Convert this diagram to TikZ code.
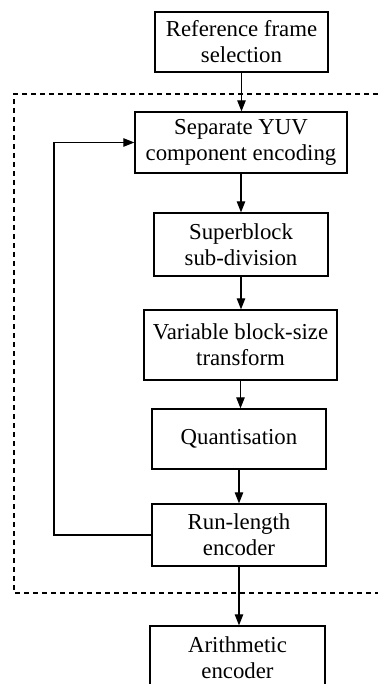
\documentclass[tikz,border=0pt]{standalone}
\usepackage{fontspec}
\setmainfont{Liberation Serif}
\usetikzlibrary{arrows.meta}
\begin{document}
\begin{tikzpicture}[x=1pt,y=-1pt,
  stage/.style={draw, line width=1.3pt, align=center, inner sep=0pt,
    font=\fontsize{22.8}{26}\selectfont},
  flow/.style={line width=1.1pt, -{Triangle[length=11pt,width=8.5pt]}},
  region/.style={line width=1.4pt, dash pattern=on 5pt off 4pt}]
\clip (0,0) rectangle (378,684);

% processing stages
\node[stage, minimum width=173pt, minimum height=60pt] (ref)   at (241.5,42)  {Reference frame\\selection};
\node[stage, minimum width=212pt, minimum height=61pt] (yuv)   at (241,142.5) {Separate YUV\\component encoding};
\node[stage, minimum width=174pt, minimum height=63pt] (sup)   at (241,244.5) {Superblock\\sub-division};
\node[stage, minimum width=193pt, minimum height=70pt] (vbs)   at (240.5,345) {Variable block-size\\transform};
\node[stage, minimum width=174pt, minimum height=60pt] (quant) at (239,439)   {Quantisation};
\node[stage, minimum width=174pt, minimum height=62pt] (rle)   at (239,535)   {Run-length\\encoder};
\node[stage, minimum width=175pt, minimum height=100pt] (arith) at (237.5,676) {};
\node[font=\fontsize{22.8}{26}\selectfont, align=center] (arithlbl) at (237.5,658) {Arithmetic\\encoder};

% dashed region enclosing the coding loop
\draw[region] (378,94) -- (14,94) -- (14,593) -- (378,593);

% main flow
\draw[flow] (ref.south)   -- (ref.south   |- yuv.north);
\draw[flow] (yuv.south)   -- (yuv.south   |- sup.north);
\draw[flow] (sup.south)   -- (sup.south   |- vbs.north);
\draw[flow] (vbs.south)   -- (vbs.south   |- quant.north);
\draw[flow] (quant.south) -- (quant.south |- rle.north);
\draw[flow] (rle.south)   -- (rle.south   |- arith.north);

% feedback loop
\coordinate (fbx) at (54,0);
\draw[flow] (rle.west) -- (fbx |- rle.west) -- (fbx |- yuv.west) -- (yuv.west);
\end{tikzpicture}
\end{document}
